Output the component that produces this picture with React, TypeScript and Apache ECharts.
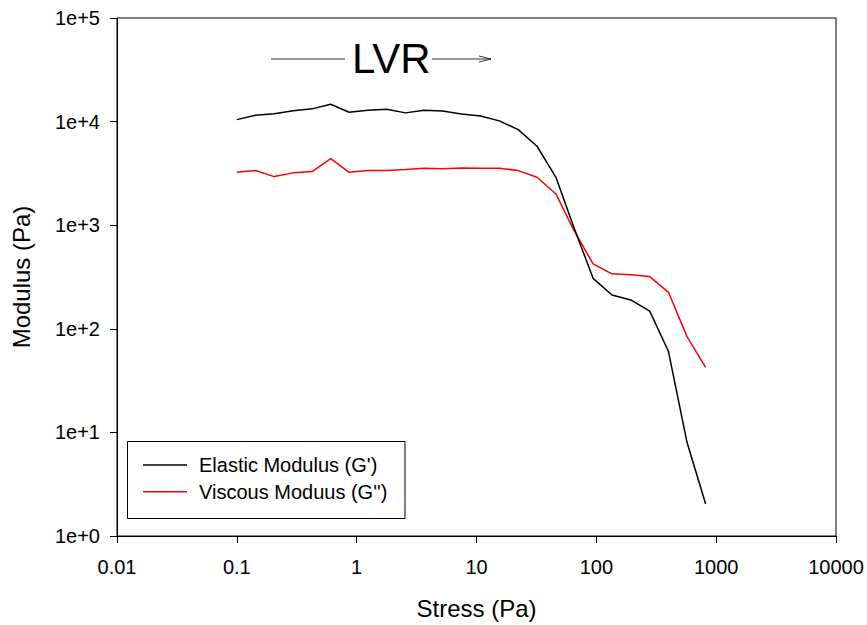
import React, { useEffect, useRef } from "react";
import * as echarts from "echarts";

// Stress (Pa)
const stress = [0.1, 0.143, 0.205, 0.295, 0.425, 0.607, 0.865, 1.24, 1.78, 2.56, 3.65, 5.2, 7.5, 10.8, 15.5, 22.3, 32, 46, 65, 94, 135, 194, 279, 400, 571, 817];
// Elastic Modulus G' (Pa)
const elastic = [10450, 11500, 11900, 12700, 13270, 14700, 12300, 12850, 13150, 12140, 12850, 12680, 11870, 11350, 10160, 8370, 5780, 2900, 950, 307, 212, 190, 148, 60.3, 8.02, 2.04];
// Viscous Modulus G'' (Pa)
const viscous = [3240, 3370, 2945, 3200, 3290, 4395, 3240, 3370, 3370, 3440, 3540, 3515, 3575, 3540, 3540, 3365, 2900, 2003, 890, 423, 339, 333, 319, 225, 84, 42.5];

const xTickLabels = ["0.01", "0.1", "1", "10", "100", "1000", "10000"];
const yTickLabels = ["1e+0", "1e+1", "1e+2", "1e+3", "1e+4", "1e+5"];

const seriesNames = ["Elastic Modulus (G')", "Viscous Moduus (G'')"];
const seriesColors = ["#000000", "#ff0000"];

const FONT = "'Liberation Sans', Arial, Helvetica, sans-serif";

export default function App() {
  const ref = useRef<HTMLDivElement>(null);
  useEffect(() => {
    if (!ref.current) return;
    const chart = echarts.init(ref.current, undefined, { renderer: "svg" });
    const pairs = (ys: number[]) => stress.map((x, i) => [x, ys[i]]);
    const legendLeft = 127.5;
    const legendTop = 441.5;
    const legendW = 277.5;
    const legendH = 77;
    const rowY = [465, 491.7];
    chart.setOption({
      animation: false,
      backgroundColor: "#ffffff",
      textStyle: { fontFamily: FONT },
      grid: {
        left: 117,
        right: 31,
        top: 18,
        bottom: 89,
        show: true,
        borderColor: "#000",
        borderWidth: 1,
        backgroundColor: "transparent",
      },
      xAxis: {
        type: "log",
        logBase: 10,
        min: 0.01,
        max: 10000,
        splitNumber: 6,
        name: "Stress (Pa)",
        nameLocation: "middle",
        nameGap: 60,
        nameTextStyle: { fontSize: 24, color: "#000", fontFamily: FONT },
        axisLine: { show: true, lineStyle: { color: "#000", width: 1 } },
        axisTick: { show: true, inside: false, length: 7, lineStyle: { color: "#000", width: 1 } },
        minorTick: { show: false },
        splitLine: { show: false },
        axisLabel: {
          fontSize: 20,
          color: "#000",
          fontFamily: FONT,
          margin: 21,
          showMinLabel: true,
          showMaxLabel: true,
          formatter: (v: number) => xTickLabels[Math.round(Math.log10(v)) + 2] ?? "",
        },
      },
      yAxis: {
        type: "log",
        logBase: 10,
        min: 1,
        max: 100000,
        splitNumber: 5,
        name: "Modulus (Pa)",
        nameLocation: "middle",
        nameRotate: 90,
        nameGap: 84,
        nameTextStyle: { fontSize: 24, color: "#000", fontFamily: FONT },
        axisLine: { show: true, lineStyle: { color: "#000", width: 1 } },
        axisTick: { show: true, inside: false, length: 7, lineStyle: { color: "#000", width: 1 } },
        minorTick: { show: false },
        splitLine: { show: false },
        axisLabel: {
          fontSize: 20,
          color: "#000",
          fontFamily: FONT,
          margin: 17,
          showMinLabel: true,
          showMaxLabel: true,
          formatter: (v: number) => yTickLabels[Math.round(Math.log10(v))] ?? "",
        },
      },
      series: [
        {
          name: seriesNames[0],
          type: "line",
          data: pairs(elastic),
          symbol: "none",
          lineStyle: { color: seriesColors[0], width: 1.5 },
          itemStyle: { color: seriesColors[0] },
          z: 3,
        },
        {
          name: seriesNames[1],
          type: "line",
          data: pairs(viscous),
          symbol: "none",
          lineStyle: { color: seriesColors[1], width: 1.5 },
          itemStyle: { color: seriesColors[1] },
          z: 2,
        },
      ],
      graphic: [
        // LVR annotation
        { type: "line", shape: { x1: 271, y1: 59, x2: 345, y2: 59 }, style: { stroke: "#333", lineWidth: 1 } },
        { type: "line", shape: { x1: 432, y1: 59, x2: 491, y2: 59 }, style: { stroke: "#333", lineWidth: 1 } },
        { type: "polyline", shape: { points: [[479, 56], [491, 59], [479, 62]] }, style: { stroke: "#333", lineWidth: 1, fill: "none" } },
        {
          type: "text",
          x: 352,
          y: 58.5,
          style: { text: "LVR", fontSize: 42, fontFamily: FONT, fill: "#000", verticalAlign: "middle", align: "left" },
        },
        // Legend box
        {
          type: "rect",
          shape: { x: legendLeft, y: legendTop, width: legendW, height: legendH },
          style: { fill: "#fff", stroke: "#000", lineWidth: 1 },
          z: 10,
        },
        ...seriesNames.flatMap((n, i) => [
          {
            type: "line",
            shape: { x1: 143, y1: rowY[i], x2: 187, y2: rowY[i] },
            style: { stroke: seriesColors[i], lineWidth: 1.5 },
            z: 11,
          },
          {
            type: "text",
            x: 199,
            y: rowY[i],
            style: { text: n, fontSize: 20, fontFamily: FONT, fill: "#000", verticalAlign: "middle", align: "left" },
            z: 11,
          },
        ]),
      ],
    });
    return () => chart.dispose();
  }, []);
  return (
    <div
      ref={ref}
      style={{ position: "absolute", left: 0, top: 0, width: 867, height: 625, background: "#fff" }}
    />
  );
}
